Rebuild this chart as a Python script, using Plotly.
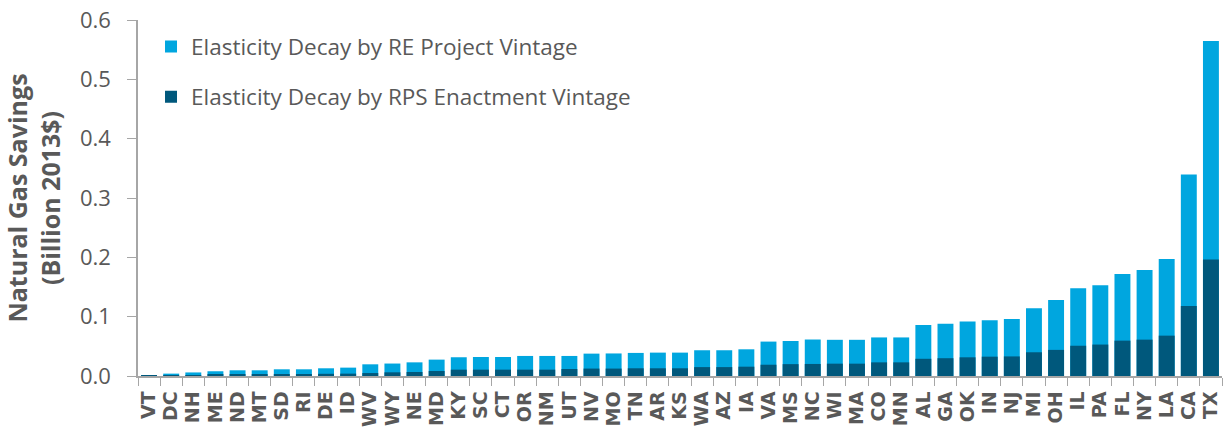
import plotly.graph_objects as go

states = ["VT", "DC", "NH", "ME", "ND", "MT", "SD", "RI", "DE", "ID", "WV", "WY", "NE",
          "MD", "KY", "SC", "CT", "OR", "NM", "UT", "NV", "MO", "TN", "AR", "KS", "WA",
          "AZ", "IA", "VA", "MS", "NC", "WI", "MA", "CO", "MN", "AL", "GA", "OK", "IN",
          "NJ", "MI", "OH", "IL", "PA", "FL", "NY", "LA", "CA", "TX"]

re_project_vintage = [0.001, 0.004, 0.006, 0.008, 0.0096, 0.0096, 0.0113, 0.0113, 0.013,
                      0.0141, 0.0197, 0.021, 0.023, 0.0276, 0.0316, 0.032, 0.032, 0.0338,
                      0.0338, 0.0338, 0.0377, 0.038, 0.0389, 0.0394, 0.0394, 0.0434, 0.0434,
                      0.045, 0.058, 0.059, 0.0615, 0.061, 0.061, 0.065, 0.065, 0.086, 0.088,
                      0.092, 0.094, 0.096, 0.114, 0.128, 0.148, 0.153, 0.172, 0.1785, 0.197,
                      0.3395, 0.5645]

rps_enactment_vintage = [0.0005, 0.001, 0.0015, 0.002, 0.0025, 0.0025, 0.003, 0.003, 0.0037,
                         0.004, 0.005, 0.0062, 0.0068, 0.0084, 0.0107, 0.0107, 0.0107, 0.0107,
                         0.0107, 0.0118, 0.0125, 0.0125, 0.013, 0.013, 0.013, 0.015, 0.015,
                         0.0157, 0.019, 0.020, 0.0203, 0.0208, 0.0208, 0.023, 0.023, 0.029,
                         0.030, 0.0315, 0.0326, 0.033, 0.040, 0.044, 0.051, 0.053, 0.0596,
                         0.0613, 0.068, 0.118, 0.1964]

LIGHT = "#00A6DF"
DARK = "#00587C"
GREY = "#595959"
AXIS = "#A6A6A6"

fig = go.Figure()
fig.add_trace(go.Bar(x=states, y=re_project_vintage, name="Elasticity Decay by RE Project Vintage",
                     marker=dict(color=LIGHT, line=dict(width=0)), legendgroup="a"))
fig.add_trace(go.Bar(x=states, y=rps_enactment_vintage, name="Elasticity Decay by RPS Enactment Vintage",
                     marker=dict(color=DARK, line=dict(width=0)), legendgroup="b"))

fig.update_layout(
    width=1224, height=434,
    margin=dict(l=138, r=2, t=20, b=58),
    barmode="overlay", bargap=0.28,
    plot_bgcolor="white", paper_bgcolor="white",
    showlegend=True,
    legend=dict(x=0.012, y=0.985, xanchor="left", yanchor="top",
                font=dict(family="Open Sans", size=22.5, color=GREY),
                traceorder="grouped", tracegroupgap=18,
                bgcolor="rgba(0,0,0,0)"),
    xaxis=dict(type="category", tickangle=-90, tickson="boundaries",
               tickmode="array", tickvals=states, ticktext=states,
               ticks="outside", ticklen=8, tickcolor=AXIS,
               showline=True, linecolor=AXIS, linewidth=1.5,
               ticklabelstandoff=6,
               tickfont=dict(family="DejaVu Sans", size=19, color=GREY, weight="bold"),
               showgrid=False),
    yaxis=dict(range=[0, 0.6], dtick=0.1, tickformat=".1f",
               ticks="outside", ticklen=9, tickcolor=AXIS,
               showline=True, linecolor=AXIS, linewidth=1.5,
               ticklabelstandoff=12,
               tickfont=dict(family="Open Sans", size=22, color=GREY),
               showgrid=False, zeroline=False,
               title=dict(text="Natural Gas Savings<br>(Billion 2013$)",
                          font=dict(family="Open Sans", size=25, color=GREY, weight="bold"),
                          standoff=16)),
)

fig.write_html("out.html")
